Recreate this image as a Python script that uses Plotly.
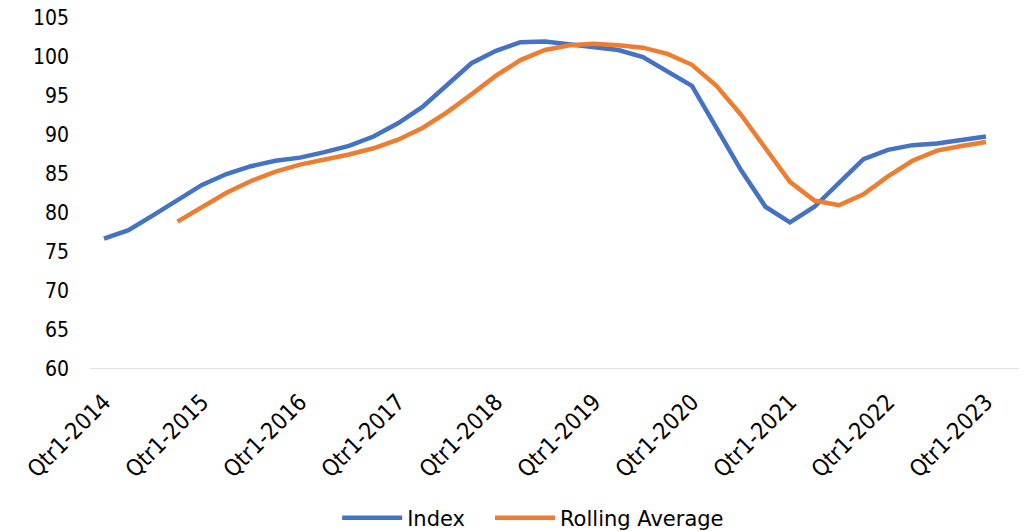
import plotly.graph_objects as go

quarters = []
for y in range(2014, 2024):
    for q in range(1, 5):
        quarters.append(f"Qtr{q}-{y}")
quarters = quarters[:37]

index_vals = [76.7, 77.8, 79.7, 81.7, 83.6, 85.0, 86.0, 86.7, 87.1, 87.8,
              88.6, 89.8, 91.5, 93.6, 96.4, 99.2, 100.8, 101.9, 102.0, 101.6,
              101.3, 100.9, 100.0, 98.2, 96.3, 90.9, 85.5, 80.8, 78.8, 80.8,
              83.8, 86.9, 88.1, 88.7, 88.9, 89.3, 89.8]
rolling_vals = [None, None, None, 78.9, 80.8, 82.6, 84.1, 85.3, 86.2, 86.8,
                87.5, 88.3, 89.4, 90.9, 92.9, 95.2, 97.6, 99.6, 100.9, 101.5,
                101.7, 101.5, 101.2, 100.4, 99.0, 96.3, 92.6, 88.3, 84.0, 81.6,
                81.0, 82.4, 84.7, 86.7, 88.0, 88.6, 89.1]
y_ticks = [60, 65, 70, 75, 80, 85, 90, 95, 100, 105]

xs = list(range(len(quarters)))
font_family = "DejaVu Sans Condensed, DejaVu Sans, sans-serif"

fig = go.Figure()
fig.add_trace(go.Scatter(x=xs, y=index_vals, mode="lines", name="Index\u00a0\u00a0\u00a0",
                         line=dict(color="#4472C4", width=4.5)))
fig.add_trace(go.Scatter(x=xs, y=rolling_vals, mode="lines", name="Rolling Average",
                         line=dict(color="#ED7D31", width=4.5)))

fig.update_layout(
    width=1025, height=532,
    margin=dict(l=90, r=6, t=18, b=163, autoexpand=False),
    plot_bgcolor="white", paper_bgcolor="white",
    font=dict(family=font_family, size=20, color="#000000"),
    showlegend=True,
    legend=dict(orientation="h", x=0.477, xanchor="center", y=-0.425, yanchor="middle",
                font=dict(size=21, family="DejaVu Sans"), itemwidth=60,
                traceorder="normal"),
    xaxis=dict(
        range=[-0.57, 37.35],
        tickmode="array",
        tickvals=xs[::4],
        ticktext=quarters[::4],
        tickangle=-45,
        showgrid=False,
        zeroline=False,
        showline=False,
        ticks="",
        ticklabelstandoff=14,
        automargin=False,
        tickfont=dict(size=23),
    ),
    yaxis=dict(
        range=[60, 105],
        tickmode="array",
        tickvals=y_ticks,
        showgrid=False,
        zeroline=False,
        showline=False,
        ticks="",
        ticklabelstandoff=20,
        ticklabeloverflow="allow",
        automargin=False,
        tickfont=dict(size=21),
    ),
)
fig.add_hline(y=60, line=dict(color="#D9D9D9", width=1.5), layer="below")

fig.write_html("out.html", config={"displayModeBar": False},
               post_script="document.body.style.margin='0';document.body.style.padding='0';")
